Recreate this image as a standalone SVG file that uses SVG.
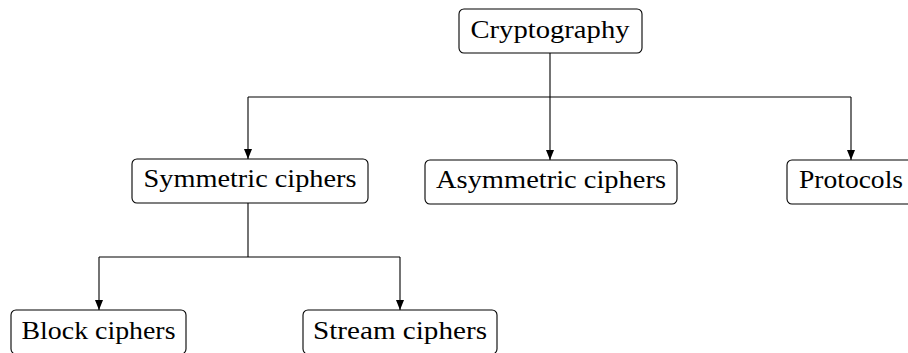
<svg xmlns="http://www.w3.org/2000/svg" width="908" height="353" viewBox="0 0 908 353">
<style>
.box{fill:#fff;stroke:#000;stroke-width:1.1}
.t{font-family:"Liberation Serif","Times New Roman",serif;font-size:26px;fill:#000;text-anchor:middle}
.c{fill:none;stroke:#000;stroke-width:1.1}
</style>
<defs>
<marker id="ah" viewBox="0 0 10 8" refX="10" refY="4" markerWidth="10" markerHeight="8" markerUnits="userSpaceOnUse" orient="auto">
<path d="M0,0 L10,4 L0,8 Z" fill="#000"/>
</marker>
</defs>
<rect width="908" height="353" fill="#fff"/>
<g id="connectors">
<path class="c" d="M550,53 V97"/>
<path class="c" d="M248,97 H851"/>
<path class="c" d="M248,97 V159" marker-end="url(#ah)"/>
<path class="c" d="M550,97 V160" marker-end="url(#ah)"/>
<path class="c" d="M851,97 V160" marker-end="url(#ah)"/>
<path class="c" d="M248,203 V257"/>
<path class="c" d="M99,257 H400"/>
<path class="c" d="M99,257 V310" marker-end="url(#ah)"/>
<path class="c" d="M400,257 V310" marker-end="url(#ah)"/>
</g>
<g id="cryptography">
<rect class="box" x="459" y="9" width="183" height="44" rx="5"/>
<text class="t" x="550" y="38" textLength="159" lengthAdjust="spacingAndGlyphs">Cryptography</text>
</g>
<g id="symmetric">
<rect class="box" x="132" y="159" width="236" height="44" rx="5"/>
<text class="t" x="250" y="187" textLength="213" lengthAdjust="spacingAndGlyphs">Symmetric ciphers</text>
</g>
<g id="asymmetric">
<rect class="box" x="425" y="160" width="252" height="44" rx="5"/>
<text class="t" x="551" y="188" textLength="230" lengthAdjust="spacingAndGlyphs">Asymmetric ciphers</text>
</g>
<g id="protocols">
<rect class="box" x="787" y="160" width="128" height="44" rx="5"/>
<text class="t" x="851" y="188" textLength="104" lengthAdjust="spacingAndGlyphs">Protocols</text>
</g>
<g id="block">
<rect class="box" x="11" y="310" width="175" height="44" rx="5"/>
<text class="t" x="98.5" y="339" textLength="154" lengthAdjust="spacingAndGlyphs">Block ciphers</text>
</g>
<g id="stream">
<rect class="box" x="303" y="310" width="194" height="44" rx="5"/>
<text class="t" x="400" y="339" textLength="174" lengthAdjust="spacingAndGlyphs">Stream ciphers</text>
</g>
</svg>
